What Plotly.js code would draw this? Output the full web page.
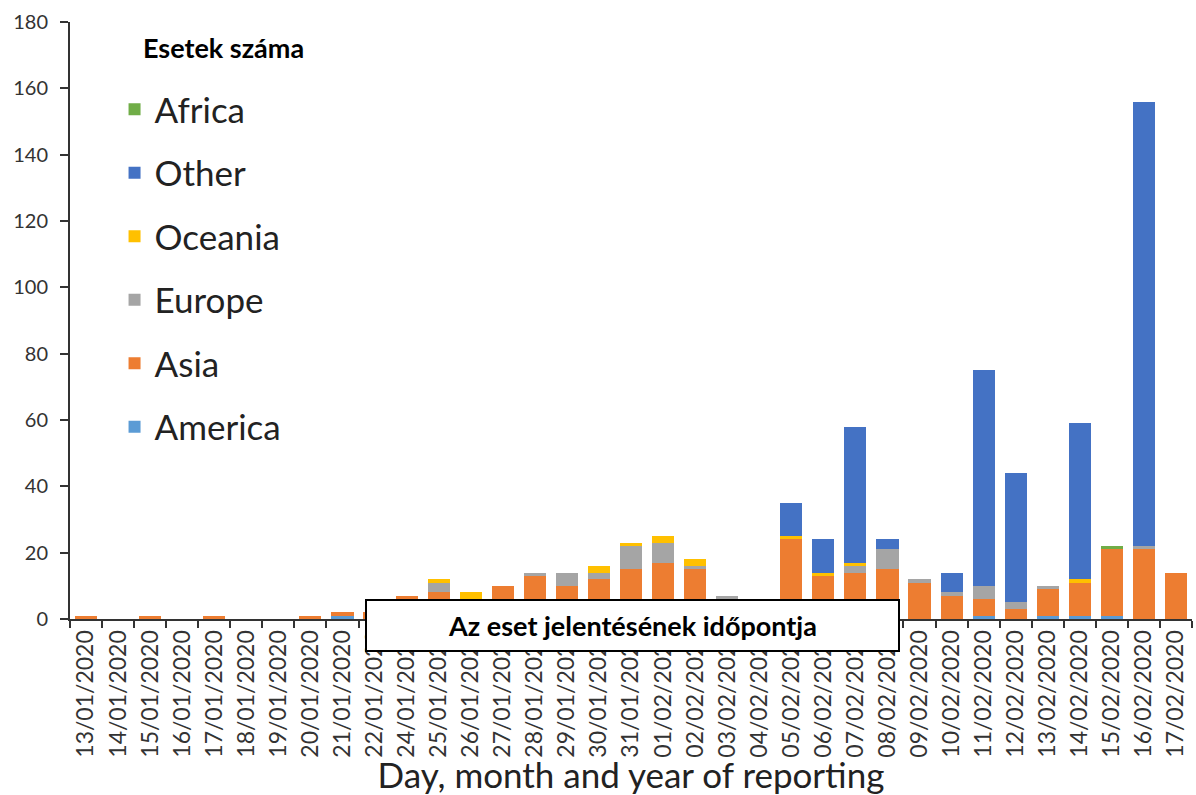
<!DOCTYPE html>
<html>
<head>
<meta charset="utf-8">
<script src="https://cdn.plot.ly/plotly-3.0.1.min.js"></script>
<style>html,body{margin:0;padding:0;background:#fff;}#chart{width:1196px;height:795px;}</style>
</head>
<body>
<div id="chart"></div>
<script>
const categories = ['13/01/2020','14/01/2020','15/01/2020','16/01/2020','17/01/2020','18/01/2020','19/01/2020','20/01/2020','21/01/2020','22/01/2020','24/01/2020','25/01/2020','26/01/2020','27/01/2020','28/01/2020','29/01/2020','30/01/2020','31/01/2020','01/02/2020','02/02/2020','03/02/2020','04/02/2020','05/02/2020','06/02/2020','07/02/2020','08/02/2020','09/02/2020','10/02/2020','11/02/2020','12/02/2020','13/02/2020','14/02/2020','15/02/2020','16/02/2020','17/02/2020'];
const america = [0,0,0,0,0,0,0,0,1,0,0,0,0,0,0,0,0,0,0,0,0,0,0,0,0,0,0,0,1,0,1,1,1,0,0];
const asia    = [1,0,1,0,1,0,0,1,1,2,7,8,6,10,13,10,12,15,17,15,6,4,24,13,14,15,11,7,5,3,8,10,20,21,14];
const europe  = [0,0,0,0,0,0,0,0,0,0,0,3,0,0,1,4,2,7,6,1,1,0,0,0,2,6,1,1,4,2,1,0,0,1,0];
const oceania = [0,0,0,0,0,0,0,0,0,0,0,1,2,0,0,0,2,1,2,2,0,0,1,1,1,0,0,0,0,0,0,1,0,0,0];
const other   = [0,0,0,0,0,0,0,0,0,0,0,0,0,0,0,0,0,0,0,0,0,0,10,10,41,3,0,6,65,39,0,47,0,134,0];
const africa  = [0,0,0,0,0,0,0,0,0,0,0,0,0,0,0,0,0,0,0,0,0,0,0,0,0,0,0,0,0,0,0,0,1,0,0];
const yTicks = [0,20,40,60,80,100,120,140,160,180];

const series = [
  {name:'America', y:america, color:'#5B9BD5', rank:6},
  {name:'Asia', y:asia, color:'#ED7D31', rank:5},
  {name:'Europe', y:europe, color:'#A5A5A5', rank:4},
  {name:'Oceania', y:oceania, color:'#FFC000', rank:3},
  {name:'Other', y:other, color:'#4472C4', rank:2},
  {name:'Africa', y:africa, color:'#70AD47', rank:1}
];
const FONT = 'Lato, "Open Sans", sans-serif';
const data = series.map(s => ({
  type:'bar', name:s.name, x:categories, y:s.y, legendgroup:s.name, legendrank:s.rank,
  marker:{color:s.color, line:{width:0}}
}));

const layout = {
  width:1196, height:795,
  margin:{l:70, r:4, t:22, b:176},
  paper_bgcolor:'#fff', plot_bgcolor:'#fff',
  barmode:'stack', bargap:0.31,
  font:{family:FONT, color:'#333'},
  showlegend:true,
  legend:{x:0.0397, y:0.903, xanchor:'left', yanchor:'top',
    traceorder:'grouped', tracegroupgap:15,
    font:{size:35, family:FONT, color:'#222'},
    bgcolor:'rgba(0,0,0,0)'},
  xaxis:{type:'category', tickangle:-90, tickson:'boundaries', ticks:'outside', ticklen:7,
    tickcolor:'#333', tickwidth:2, showline:true, linecolor:'#333', linewidth:2,
    tickfont:{size:23, family:FONT, color:'#333'}, showgrid:false, automargin:false,
    title:{text:'Day, month and year of reporting', font:{size:35, family:FONT, color:'#222'}, standoff:2}},
  yaxis:{range:[0,180], tickvals:yTicks, ticks:'outside', ticklen:8, tickcolor:'#333', tickwidth:2,
    ticklabelstandoff:8,
    showline:true, linecolor:'#333', linewidth:2, showgrid:false, zeroline:false,
    tickfont:{size:20, family:FONT, color:'#333'}, automargin:false},
  annotations:[
    {xref:'paper', yref:'paper', x:0.063, y:0.958, xanchor:'left', yanchor:'middle',
     text:'<b>Esetek száma</b>', showarrow:false, font:{size:27, family:FONT, color:'#000'}},
    {xref:'paper', yref:'paper', x:0.501, y:-0.0109, xanchor:'center', yanchor:'middle',
    text:'<b>Az eset jelentésének időpontja</b>', showarrow:false,
    font:{size:27, family:FONT, color:'#000'},
    bgcolor:'#fff', bordercolor:'#000', borderwidth:2, borderpad:0,
    width:531, height:49}
  ]
};
Plotly.newPlot('chart', data, layout, {displayModeBar:false, staticPlot:true});
</script>
</body>
</html>
